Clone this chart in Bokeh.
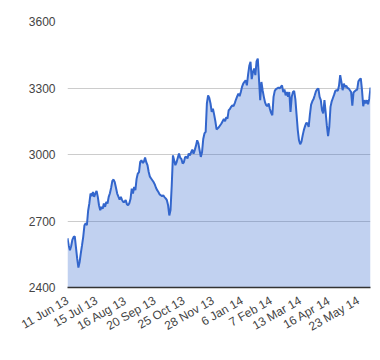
import math
from bokeh.plotting import figure
from bokeh.models import Range1d, FixedTicker
from bokeh.embed import file_html
from bokeh.resources import INLINE

tick_labels = ["11 Jun 13", "15 Jul 13", "16 Aug 13", "20 Sep 13", "25 Oct 13",
               "28 Nov 13", "6 Jan 14", "7 Feb 14", "13 Mar 14", "16 Apr 14", "23 May 14"]
tick_index = [0, 24, 48, 72, 96, 120, 144, 168, 192, 216, 240]

values = [
    2622, 2590, 2568, 2586, 2615, 2627, 2631, 2580, 2530, 2490,
    2515, 2555, 2591, 2630, 2681, 2689, 2681, 2745, 2779, 2824,
    2812, 2831, 2809, 2824, 2836, 2809, 2771, 2749, 2764, 2755,
    2779, 2764, 2786, 2779, 2809, 2825, 2850, 2881, 2887, 2875,
    2850, 2824, 2810, 2797, 2809, 2795, 2786, 2786, 2794, 2776,
    2771, 2780, 2800, 2846, 2824, 2854, 2839, 2890, 2914, 2921,
    2967, 2974, 2962, 2967, 2986, 2965, 2952, 2921, 2900, 2892,
    2884, 2876, 2865, 2850, 2839, 2831, 2820, 2816, 2812, 2816,
    2808, 2802, 2794, 2771, 2725, 2750, 2860, 2996, 2974, 2952,
    2965, 2985, 3004, 2985, 2980, 2959, 2965, 2988, 2990, 2982,
    3004, 2996, 3010, 3022, 3004, 3020, 3040, 3064, 3050, 3019,
    2989, 3010, 3070, 3095, 3102, 3230, 3267, 3255, 3230, 3192,
    3207, 3180, 3150, 3113, 3118, 3124, 3132, 3140, 3150, 3160,
    3150, 3168, 3162, 3200, 3205, 3215, 3222, 3218, 3232, 3248,
    3262, 3275, 3263, 3282, 3305, 3320, 3328, 3335, 3312, 3360,
    3400, 3418, 3340, 3372, 3388, 3358, 3420, 3433, 3340, 3245,
    3327, 3290, 3260, 3235, 3222, 3218, 3230, 3205, 3188, 3177,
    3260, 3287, 3295, 3298, 3302, 3298, 3305, 3312, 3282, 3293,
    3267, 3282, 3260, 3282, 3192, 3260, 3282, 3287, 3250, 3180,
    3110, 3064, 3046, 3057, 3085, 3110, 3128, 3143, 3140, 3125,
    3180, 3225, 3240, 3250, 3267, 3285, 3294, 3298, 3260, 3245,
    3200, 3185, 3245, 3190, 3130, 3083, 3125, 3215, 3240, 3255,
    3270, 3287, 3290, 3287, 3310, 3358, 3327, 3290, 3320, 3305,
    3310, 3300, 3298, 3290, 3282, 3220, 3280, 3285, 3290, 3293,
    3330, 3338, 3343, 3290, 3218, 3245, 3230, 3245, 3227, 3252,
    3302,
]
y_ticks = [2400, 2700, 3000, 3300, 3600]
y_base = 2400

xs = list(range(len(values)))

p = figure(width=380, height=358, output_backend="svg", toolbar_location=None,
           x_range=Range1d(0, len(values) - 1), y_range=Range1d(2400, 3600),
           min_border_left=67, min_border_top=21, min_border_right=10, min_border_bottom=71,
           frame_width=303, frame_height=266)
p.outline_line_color = None
p.background_fill_color = "white"
p.border_fill_color = "white"

p.varea(x=xs, y1=[y_base] * len(values), y2=values, fill_color="#3366cc", fill_alpha=0.3)
p.line(xs, values, line_color="#3366cc", line_width=2)

font = "Liberation Sans"
p.xaxis.ticker = FixedTicker(ticks=tick_index)
p.xaxis.major_label_overrides = {i: t for i, t in zip(tick_index, tick_labels)}
p.xaxis.major_label_orientation = math.pi / 6
p.xaxis.axis_line_color = "#333333"
p.xaxis.axis_line_width = 1.5
p.xaxis.major_tick_line_color = None
p.xaxis.minor_tick_line_color = None
p.xaxis.major_tick_out = 0
p.xaxis.major_tick_in = 0
p.xaxis.major_label_standoff = 12

p.yaxis.ticker = FixedTicker(ticks=y_ticks)
p.yaxis.axis_line_color = None
p.yaxis.major_tick_line_color = None
p.yaxis.minor_tick_line_color = None
p.yaxis.major_tick_out = 0
p.yaxis.major_tick_in = 0
p.yaxis.major_label_standoff = 12

for ax in (p.xaxis, p.yaxis):
    ax.major_label_text_font = font
    ax.major_label_text_font_size = "12px"
    ax.major_label_text_color = "#444444"

p.xgrid.grid_line_color = None
p.ygrid.ticker = FixedTicker(ticks=y_ticks)
p.ygrid.grid_line_color = "#cccccc"

open("out.html", "w").write(file_html(p, INLINE))
